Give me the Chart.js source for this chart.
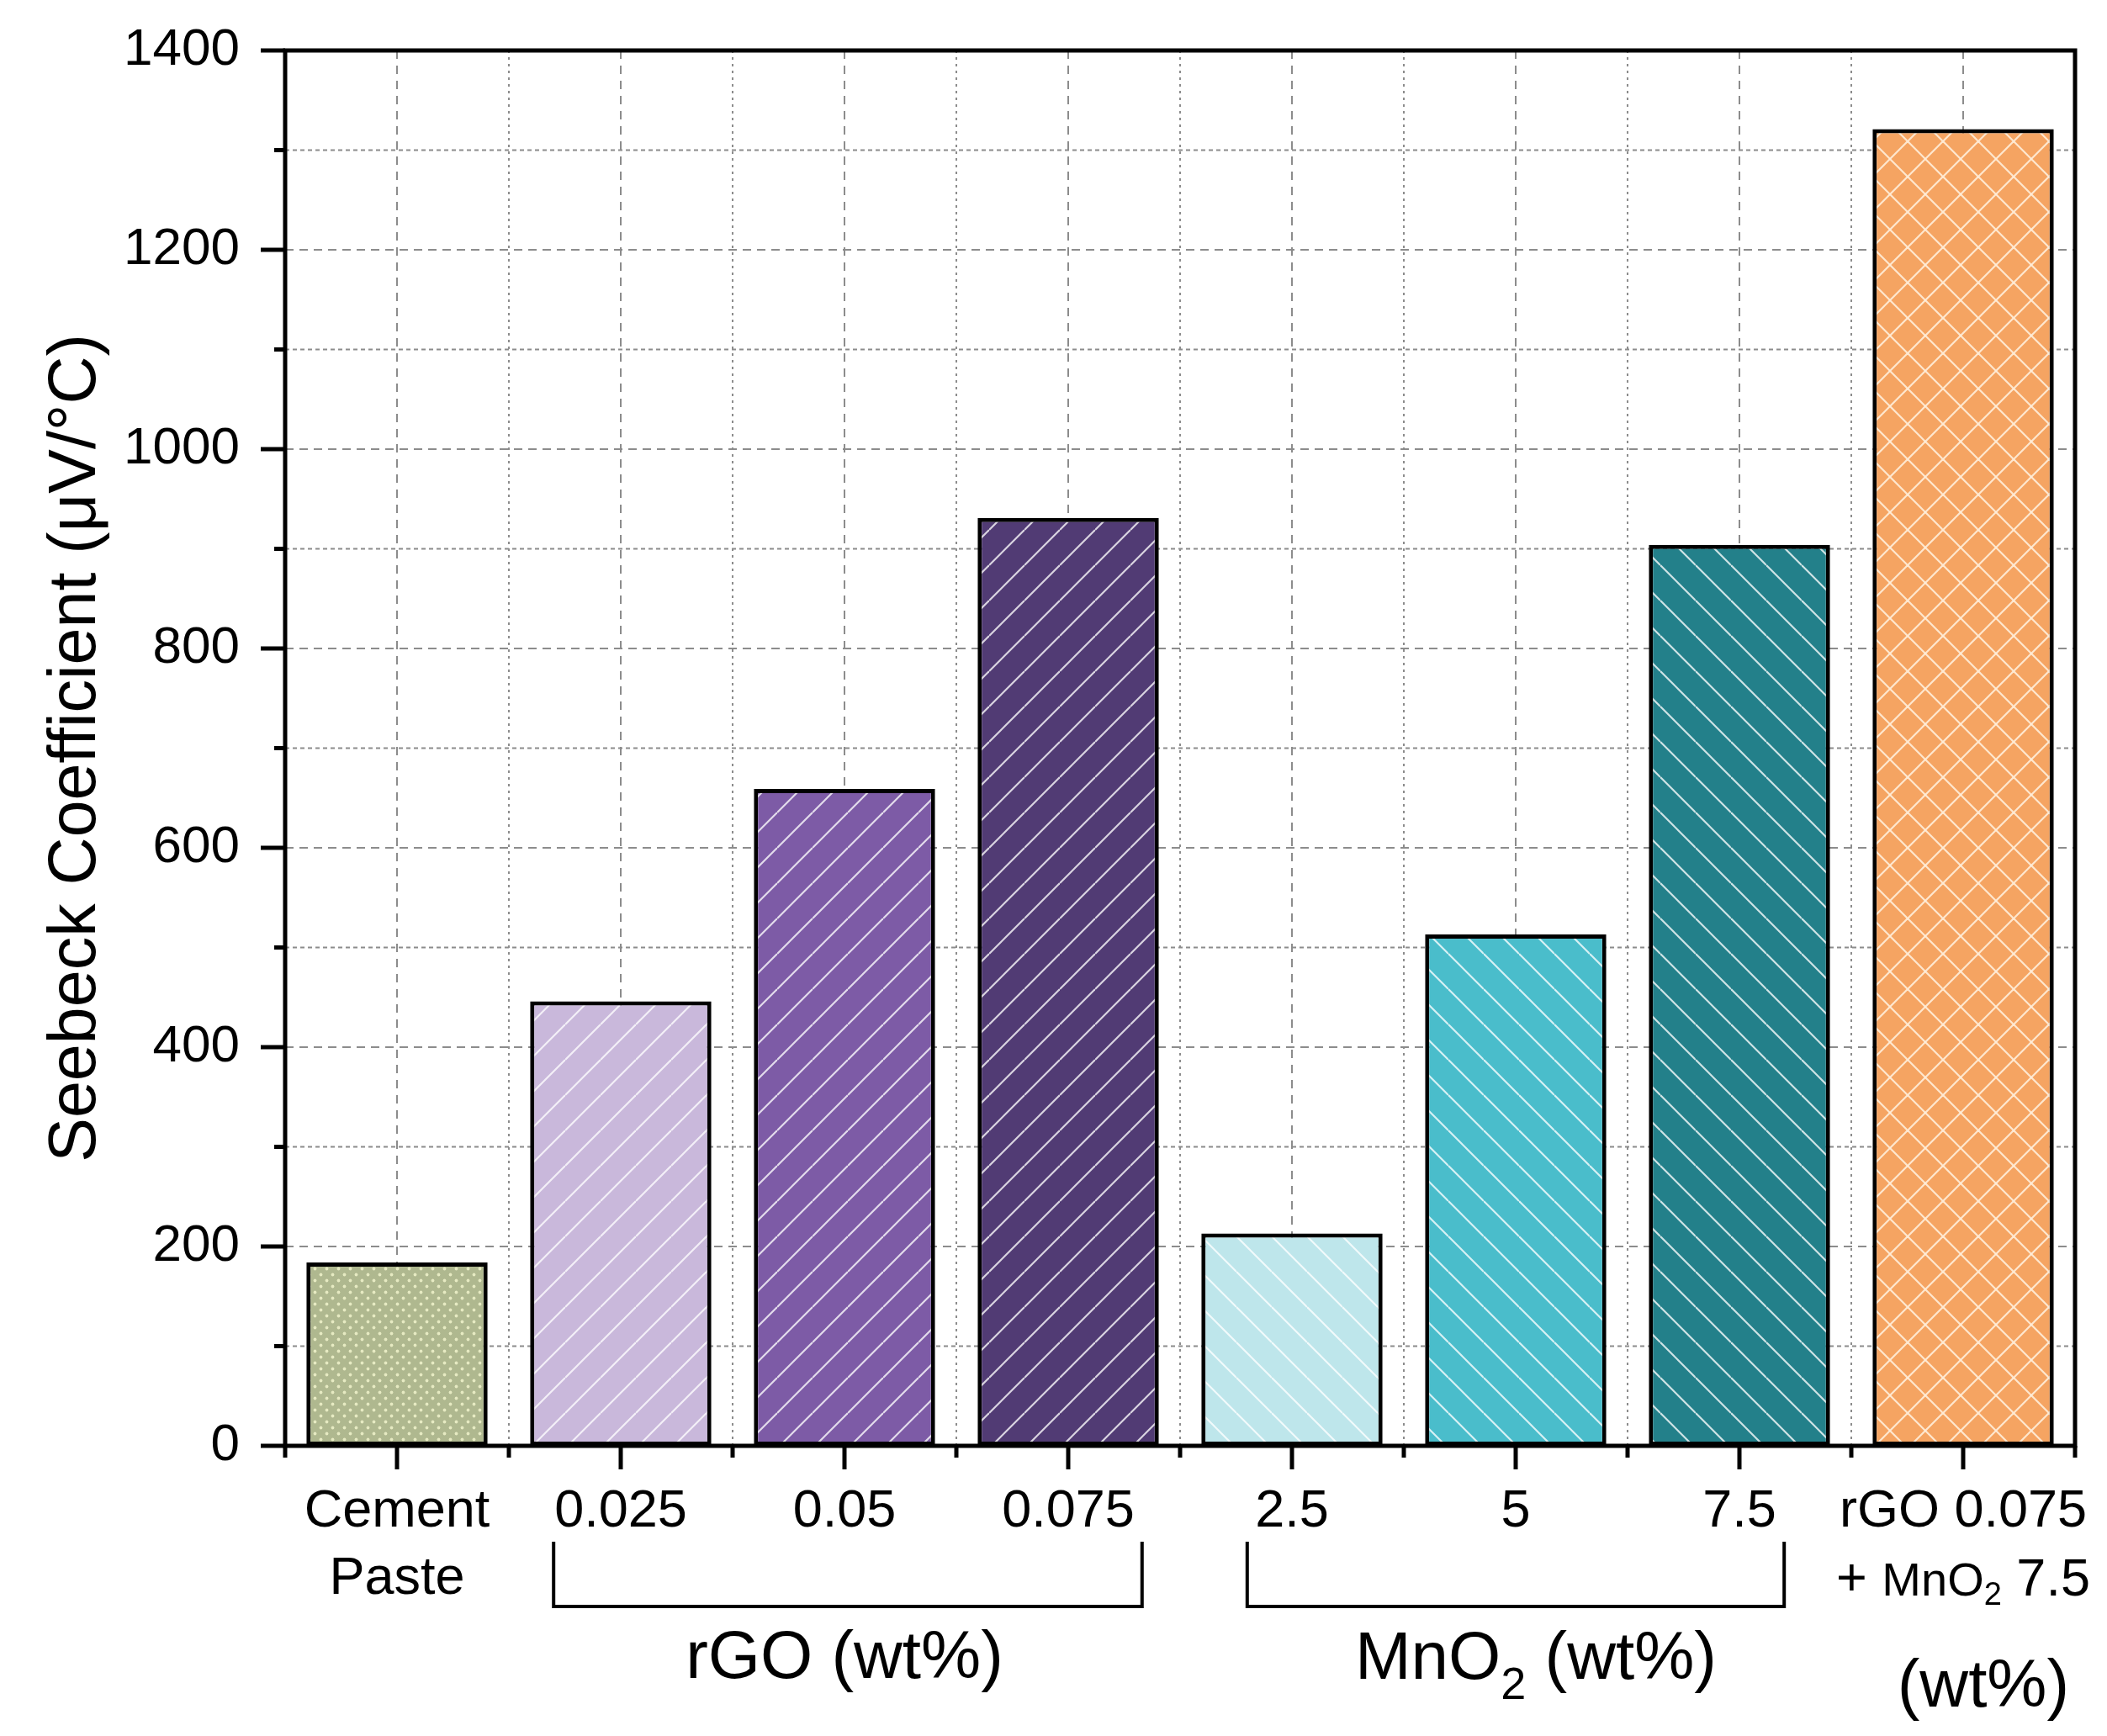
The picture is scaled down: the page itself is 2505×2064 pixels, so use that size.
<!DOCTYPE html>
<html><head><meta charset="utf-8">
<script src="https://cdn.jsdelivr.net/npm/chart.js@4.4.0/dist/chart.umd.min.js"></script>
<style>html,body{margin:0;padding:0;background:#fff;}#wrap{width:2505px;height:2064px;position:relative;}</style>
</head><body><div id="wrap"><canvas id="c"></canvas></div>
<script>
// ---- data ----
const categories = ["Cement Paste", "0.025", "0.05", "0.075", "2.5", "5", "7.5", "rGO 0.075 + MnO2 7.5"];
const tickLabels = [["Cement", "Paste"], ["0.025"], ["0.05"], ["0.075"], ["2.5"], ["5"], ["7.5"], ["rGO 0.075", ""]];
const seebeck = [184, 446, 659, 931, 213, 513, 904, 1321];
const yTickLabels = [0, 200, 400, 600, 800, 1000, 1200, 1400];
const yTitle = "Seebeck Coefficient (\u03bcV/\u00b0C)";
const groupRGO = "rGO (wt%)";
const groupMnO = ["MnO", "2", " (wt%)"];
const lastUnit = "(wt%)";
const lastLine2 = ["+ ", "MnO", "2", " 7.5"];
const barColors = ["#AFB88F", "#C9B8DB", "#7D5BA6", "#513B74", "#BEE6EB", "#4ABDCB", "#23808A", "#F5A462"];
const patternKinds = ["dots", "fwd", "fwd", "fwd", "back", "back", "back", "cross"];

const FONT = "'Liberation Sans', Arial, sans-serif";

function makePattern(color, kind) {
  const c = document.createElement('canvas');
  let w = 42, h = 42;
  if (kind === 'dots') { w = 14; h = 14; }
  c.width = w; c.height = h;
  const g = c.getContext('2d');
  g.fillStyle = color; g.fillRect(0, 0, w, h);
  if (kind === 'dots') {
    g.fillStyle = 'rgba(236,240,200,0.9)';
    [[3.5, 3.5], [10.5, 10.5]].forEach(([px, py]) => { g.beginPath(); g.arc(px, py, 1.9, 0, Math.PI * 2); g.fill(); });
  } else {
    g.strokeStyle = kind === 'cross' ? 'rgba(255,238,218,0.9)' : 'rgba(255,255,255,0.78)';
    g.lineWidth = 2.2;
    const seg = (x1, y1, x2, y2) => { g.beginPath(); g.moveTo(x1, y1); g.lineTo(x2, y2); g.stroke(); };
    if (kind === 'fwd' || kind === 'cross') for (const dy of [-h, 0, h]) seg(0, h + dy, w, dy);
    if (kind === 'back' || kind === 'cross') for (const dy of [-h, 0, h]) seg(0, dy, w, h + dy);
  }
  return g.createPattern(c, 'repeat');
}
const patterns = barColors.map((col, i) => makePattern(col, patternKinds[i]));

function line(ctx, x1, y1, x2, y2) { ctx.beginPath(); ctx.moveTo(x1, y1); ctx.lineTo(x2, y2); ctx.stroke(); }
function noPad(s) { s.paddingTop = 0; s.paddingBottom = 0; s.paddingLeft = 0; s.paddingRight = 0; }

const decor = {
  id: 'decor',
  beforeDatasetsDraw(chart) {
    const { ctx, chartArea: a, scales: { x, y } } = chart;
    ctx.save();
    ctx.strokeStyle = '#8c8c8c'; ctx.lineWidth = 2;
    for (let v = 100; v < 1400; v += 100) {
      const py = y.getPixelForValue(v);
      ctx.setLineDash(v % 200 === 0 ? [10, 7] : [5, 4]);
      line(ctx, a.left, py, a.right, py);
    }
    for (let i = 0; i < categories.length; i++) {
      const px = x.getPixelForValue(i);
      ctx.setLineDash([10, 8]);
      line(ctx, px, a.top, px, a.bottom);
      if (i < categories.length - 1) {
        const pb = x.getPixelForValue(i + 0.5);
        ctx.setLineDash([3, 5]);
        line(ctx, pb, a.top, pb, a.bottom);
      }
    }
    ctx.restore();
  },
  afterDatasetsDraw(chart) {
    const { ctx, chartArea: a, scales: { x, y } } = chart;
    ctx.save();
    ctx.strokeStyle = '#000'; ctx.lineWidth = 5; ctx.setLineDash([]);
    ctx.strokeRect(a.left, a.top, a.right - a.left, a.bottom - a.top);
    for (let v = 0; v <= 1400; v += 100) {
      const py = y.getPixelForValue(v);
      const len = v % 200 === 0 ? 29 : 13;
      line(ctx, a.left - len, py, a.left, py);
    }
    for (let i = 0; i < categories.length; i++) {
      const px = x.getPixelForValue(i);
      line(ctx, px, a.bottom, px, a.bottom + 28);
    }
    for (let i = -0.5; i <= categories.length - 0.5; i += 1) {
      const pb = x.getPixelForValue(i);
      line(ctx, pb, a.bottom, pb, a.bottom + 14);
    }
    ctx.restore();
  },
  afterDraw(chart) {
    const { ctx, chartArea: a, scales: { x } } = chart;
    ctx.save();
    ctx.fillStyle = '#000'; ctx.strokeStyle = '#000';
    ctx.lineWidth = 4;
    const bt = a.bottom + 114, bb = a.bottom + 191;
    [[0.70, 3.33], [3.80, 6.20]].forEach(([s, e]) => {
      const x0 = x.getPixelForValue(s), x1 = x.getPixelForValue(e);
      ctx.beginPath(); ctx.moveTo(x0, bt); ctx.lineTo(x0, bb); ctx.lineTo(x1, bb); ctx.lineTo(x1, bt); ctx.stroke();
    });
    ctx.textBaseline = 'alphabetic';
    const big = '80px ' + FONT, sub = '54px ' + FONT;
    ctx.font = big; ctx.textAlign = 'center';
    ctx.fillText(groupRGO, x.getPixelForValue(2), a.bottom + 276);
    ctx.textAlign = 'left';
    ctx.font = big; const w1 = ctx.measureText(groupMnO[0]).width, w3 = ctx.measureText(groupMnO[2]).width;
    ctx.font = sub; const w2 = ctx.measureText(groupMnO[1]).width;
    let sx = x.getPixelForValue(5.09) - (w1 + w2 + w3) / 2;
    const by = a.bottom + 277;
    ctx.font = big; ctx.fillText(groupMnO[0], sx, by); sx += w1;
    ctx.font = sub; ctx.fillText(groupMnO[1], sx, by + 24); sx += w2;
    ctx.font = big; ctx.fillText(groupMnO[2], sx, by);
    ctx.textAlign = 'center'; ctx.font = big;
    ctx.fillText(lastUnit, x.getPixelForValue(7.09), a.bottom + 310);
    ctx.textAlign = 'left';
    const f62 = '63px ' + FONT, f56 = '56px ' + FONT, f38 = '38px ' + FONT;
    const fonts = [f62, f56, f38, f62];
    const widths = lastLine2.map((t, i) => { ctx.font = fonts[i]; return ctx.measureText(t).width; });
    let lx = x.getPixelForValue(7) - widths.reduce((p, c) => p + c, 0) / 2;
    const ly = a.bottom + 178;
    lastLine2.forEach((t, i) => {
      ctx.font = fonts[i];
      ctx.fillText(t, lx, i === 2 ? ly + 11 : ly);
      lx += widths[i];
    });
    ctx.restore();
  }
};

new Chart(document.getElementById('c'), {
  type: 'bar',
  data: {
    labels: categories,
    datasets: [{
      data: seebeck,
      backgroundColor: patterns,
      borderColor: '#000',
      borderWidth: 5,
      borderSkipped: false,
      barPercentage: 0.81,
      categoryPercentage: 1.0
    }]
  },
  options: {
    responsive: true,
    maintainAspectRatio: false,
    devicePixelRatio: 1,
    animation: false,
    layout: { padding: { top: 60, right: 38, left: 0, bottom: 0 } },
    plugins: { legend: { display: false }, tooltip: { enabled: false } },
    scales: {
      x: {
        grid: { display: false, drawTicks: false },
        border: { display: false },
        ticks: {
          autoSkip: false, maxRotation: 0, minRotation: 0,
          color: '#000', padding: 39,
          font: { family: FONT, size: 63, lineHeight: 1.27 },
          callback: (v, i) => tickLabels[i]
        },
        afterFit: s => { s.height = 345; noPad(s); }
      },
      y: {
        min: 0, max: 1400,
        grid: { display: false, drawTicks: false },
        border: { display: false },
        ticks: {
          stepSize: 100, color: '#000', padding: 54,
          font: { family: FONT, size: 62 },
          callback: v => yTickLabels.includes(v) ? String(v) : ''
        },
        title: {
          display: true, text: yTitle, color: '#000',
          font: { family: FONT, size: 79 },
          padding: { top: 44, bottom: 0 }
        },
        afterFit: s => { s.width = 339; noPad(s); }
      }
    }
  },
  plugins: [decor]
});
</script></body></html>
